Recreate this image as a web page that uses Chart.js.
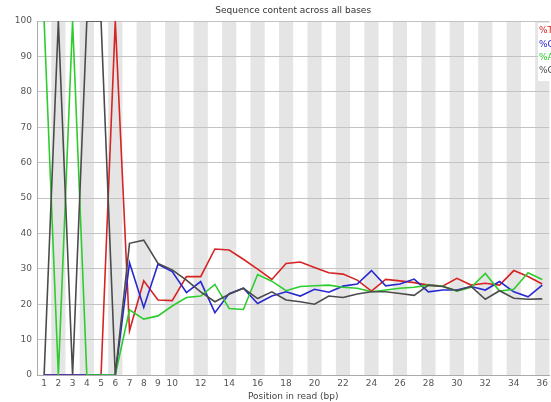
<!DOCTYPE html>
<html>
<head>
<meta charset="utf-8">
<script src="https://cdn.jsdelivr.net/npm/chart.js@4/dist/chart.umd.min.js"></script>
<style>
html,body{margin:0;padding:0;background:#fff;}
#wrap{width:551px;height:402px;position:relative;}
</style>
</head>
<body>
<div id="wrap"><canvas id="c" width="551" height="402"></canvas></div>
<script>
const chartTitle = 'Sequence content across all bases';
const xAxisTitle = 'Position in read (bp)';
const positions = [1,2,3,4,5,6,7,8,9,10,11,12,13,14,15,16,17,18,19,20,21,22,23,24,25,26,27,28,29,30,31,32,33,34,35,36];
const xTickLabels = [1,2,3,4,5,6,7,8,9,10,12,14,16,18,20,22,24,26,28,30,32,34,36];
const yTicks = [0,10,20,30,40,50,60,70,80,90,100];
const seriesNames = ['%T','%C','%A','%G'];
const seriesT = [0,0,0,0,0,100,12.5,26.6,21.2,21.0,27.8,27.8,35.6,35.3,32.7,29.9,27.0,31.5,31.9,30.4,28.9,28.5,26.8,23.7,27.0,26.6,26.1,25.4,25.1,27.3,25.4,25.9,25.4,29.5,27.8,25.7];
const seriesC = [0,0,0,0,0,0,31.7,19.1,31.3,29.2,23.3,26.4,17.6,23.0,24.5,20.2,22.3,23.5,22.3,24.2,23.4,25.1,25.7,29.5,25.2,25.7,27.1,23.5,24.0,24.0,25.0,24.0,26.4,23.5,22.1,25.4];
const seriesA = [100,0,100,0,0,0,18.4,15.8,16.7,19.5,21.9,22.3,25.6,18.8,18.5,28.4,26.5,23.8,25.0,25.2,25.4,24.8,24.5,23.5,24.0,24.5,24.8,25.4,25.1,23.7,24.8,28.7,23.7,24.2,28.9,27.0];
const seriesG = [0,100,0,100,100,0,37.2,38.1,31.5,29.7,26.8,23.5,20.7,22.8,24.5,21.6,23.5,21.2,20.7,20.0,22.3,21.9,22.9,23.5,23.5,23.0,22.5,25.4,25.0,23.8,25.0,21.4,23.8,21.7,21.4,21.5];

const colors = ['rgb(215,35,35)','rgb(40,40,210)','rgb(45,205,45)','rgb(75,75,75)'];
const allSeries = [seriesT, seriesC, seriesA, seriesG];
const FONT = '"DejaVu Sans"';

const toPts = s => s.map((v,i)=>({x:positions[i], y:v}));

const bandPlugin = {
  id:'bands',
  beforeDraw(chart){
    const {ctx, chartArea:a, scales:{x}} = chart;
    ctx.save();
    ctx.fillStyle = '#ffffff';
    ctx.fillRect(a.left, a.top, a.right-a.left, a.bottom-a.top);
    ctx.fillStyle = 'rgb(229,229,229)';
    positions.forEach(p=>{
      if (p % 2 === 0) {
        const l = x.getPixelForValue(p-0.5), r = x.getPixelForValue(p+0.5);
        ctx.fillRect(l, a.top, r-l, a.bottom-a.top);
      }
    });
    ctx.restore();
  }
};

const legendPlugin = {
  id:'boxLegend',
  afterDraw(chart){
    const {ctx, chartArea:a} = chart;
    ctx.save();
    ctx.fillStyle = '#ffffff';
    ctx.fillRect(538, a.top+2, 20, 58);
    ctx.font = '9px ' + FONT;
    ctx.textBaseline = 'middle';
    ctx.textAlign = 'left';
    seriesNames.forEach((n,i)=>{
      ctx.fillStyle = colors[i];
      ctx.fillText(n, 539, a.top + 10 + i*13.2);
    });
    ctx.restore();
  }
};

new Chart(document.getElementById('c'), {
  type:'line',
  data:{
    datasets: seriesNames.map((n,i)=>({
      label:n,
      data: toPts(allSeries[i]),
      borderColor: colors[i],
      backgroundColor: colors[i],
      borderWidth: 1.6,
      pointRadius: 0,
      tension: 0,
      fill: false,
      order: 4 - i
    }))
  },
  options:{
    responsive:false,
    animation:false,
    devicePixelRatio:1,
    layout:{padding:{left:0,right:1,top:0,bottom:0}},
    plugins:{
      legend:{display:false},
      tooltip:{enabled:false},
      title:{display:false}
    },
    scales:{
      xTop:{
        type:'linear', position:'top',
        min:0.5, max:36.5,
        afterFit(scale){ scale.height = 21; },
        grid:{display:false, drawTicks:false},
        border:{display:false},
        ticks:{display:false},
        title:{
          display:true, text:chartTitle, color:'#333',
          font:{family:FONT, size:9, lineHeight:1.2},
          padding:{top:5,bottom:0}
        }
      },
      x:{
        type:'linear',
        min:0.5, max:36.5,
        afterBuildTicks(scale){ scale.ticks = xTickLabels.map(v=>({value:v})); },
        afterFit(scale){ scale.height = 27; },
        grid:{display:false, drawTicks:false},
        border:{display:true, color:'rgb(170,170,170)', width:1},
        ticks:{
          autoSkip:false, maxRotation:0, padding:3,
          color:'#555',
          font:{family:FONT, size:9},
          callback:(v)=>String(v)
        },
        title:{
          display:true, text:xAxisTitle, color:'#444',
          font:{family:FONT, size:9, lineHeight:1.2},
          padding:{top:2,bottom:0}
        }
      },
      y:{
        type:'linear',
        min:0, max:100,
        afterBuildTicks(scale){ scale.ticks = yTicks.map(v=>({value:v})); },
        afterFit(scale){ scale.width = 37; },
        grid:{color:'rgb(195,195,195)', drawTicks:false, lineWidth:1},
        border:{display:true, color:'rgb(170,170,170)', width:1},
        ticks:{
          padding:5, color:'#555',
          font:{family:FONT, size:9},
          callback:(v)=>String(v)
        }
      }
    }
  },
  plugins:[bandPlugin, legendPlugin]
});
</script>
</body>
</html>
